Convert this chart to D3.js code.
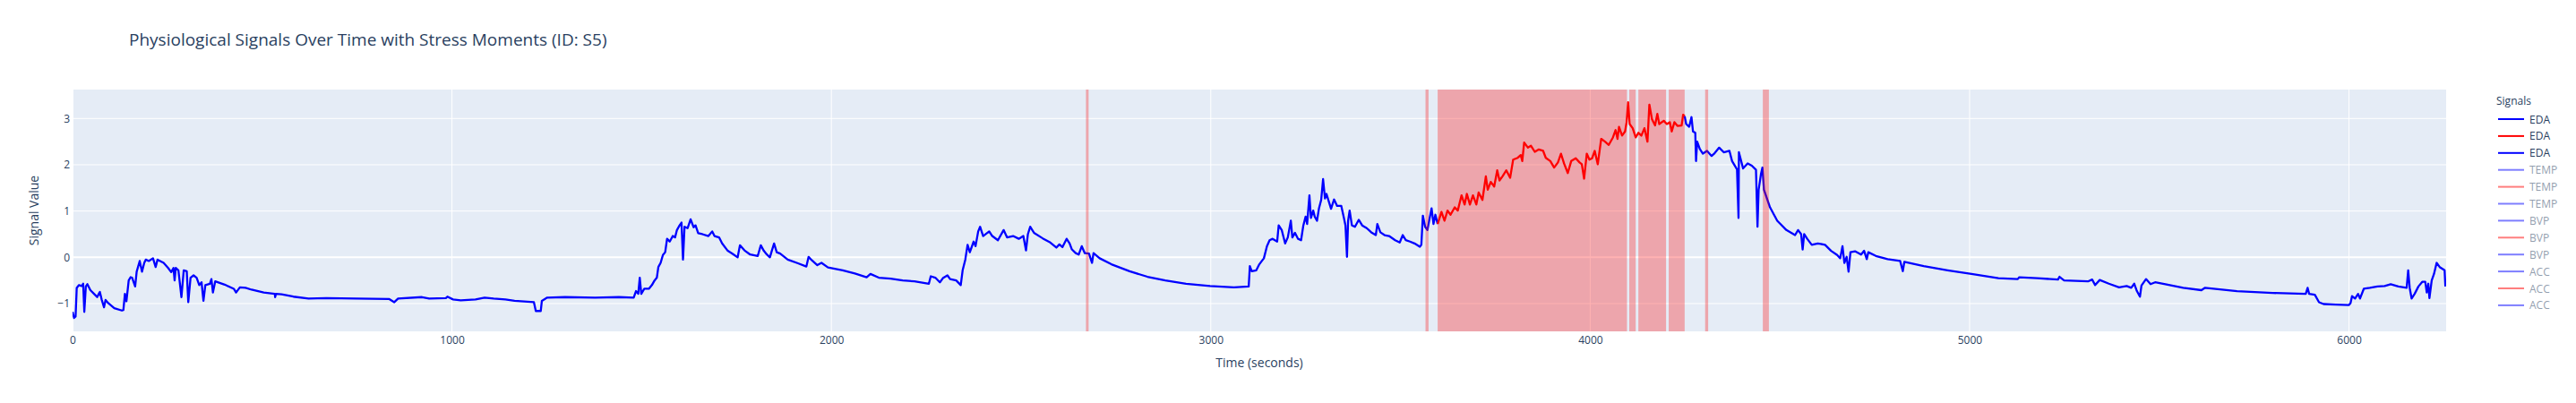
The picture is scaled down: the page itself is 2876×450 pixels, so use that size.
<!DOCTYPE html>
<html>
<head>
<meta charset="utf-8">
<script src="https://cdn.jsdelivr.net/npm/d3@7"></script>
<style>
  body { margin: 0; background: #fff; }
  text { font-family: "Open Sans", verdana, arial, sans-serif; fill: #2a3f5f; }
</style>
</head>
<body>
<svg id="chart" width="2876" height="450"></svg>
<script>
// EDA before the stress block (blue)
var preTime = [0,4,8,11,17,24,28,31,35,39,47,59,65,69,72,77,83,87,94,110,130,134,138,142,148,153,157,165,169,177,183,189,193,201,212,219,224,240,252,260,266,269,272,279,287,293,301,305,311,319,327,334,340,345,350,362,366,370,376,401,425,431,441,456,472,504,533,534,536,551,582,622,669,748,834,848,858,921,940,984,988,1003,1023,1062,
  1086,1110,1141,1165,1216,1221,1234,1237,1251,1298,1377,1440,1479,1485,1491,1495,1499,1507,1519,1527,1534,1540,1544,1550,1556,1562,1567,1574,1582,1588,1593,1600,1605,1609,1613,1621,1629,1637,1642,1649,1660,1676,1686,1692,1704,1712,1727,1739,1753,1759,1771,1786,1806,1814,1822,1830,1838,1843,1849,1856,1865,1885,1912,1934,1940,1948,1963,1974,1991,2030,2062,2093,2103,2125,
  2156,2188,2219,2257,2262,2274,2286,2294,2306,2313,2329,2341,2346,2353,2359,2365,2375,2380,2387,2392,2400,2416,2424,2439,2454,2463,2479,2494,2506,2513,2518,2524,2534,2557,2577,2593,2601,2609,2620,2628,2634,2644,2652,2660,2668,2679,2687,2691,2707,2738,2786,2833,2880,2935,2998,3061,3100,3103,3108,3120,3128,3140,3148,3155,3163,3175,3179,3187,
  3191,3196,3203,3211,3215,3222,3230,3238,3244,3250,3254,3260,3264,3270,3274,3280,3285,3291,3296,3301,3305,3311,3317,3325,3333,3344,3351,3355,3359,3362,3366,3372,3380,3390,3399,3411,3423,3435,3439,3447,3458,3470,3486,3498,3506,3514,3525,3537,3551,3555,3559,3565,3571,3577,3582,3587,3592,3598];
var preValue = [-1.18,-1.31,-1.28,-0.66,-0.60,-0.62,-0.57,-1.18,-0.63,-0.58,-0.71,-0.81,-0.86,-0.79,-0.75,-0.92,-1.08,-0.92,-0.99,-1.10,-1.15,-1.14,-0.79,-0.95,-0.50,-0.43,-0.44,-0.63,-0.31,-0.08,-0.31,-0.12,-0.05,-0.08,-0.02,-0.21,-0.05,-0.12,-0.23,-0.32,-0.23,-0.50,-0.23,-0.28,-0.86,-0.28,-0.30,-0.97,-0.44,-0.39,-0.44,-0.60,-0.54,-0.94,-0.60,-0.57,-0.47,-0.76,-0.52,-0.59,-0.68,-0.76,-0.65,-0.66,-0.70,-0.76,-0.79,-0.86,-0.79,-0.80,-0.85,-0.89,-0.88,-0.89,-0.90,-0.97,-0.89,-0.86,-0.89,-0.88,-0.85,-0.91,-0.93,-0.91,
  -0.87,-0.89,-0.91,-0.94,-0.97,-1.16,-1.16,-0.94,-0.87,-0.86,-0.87,-0.86,-0.87,-0.73,-0.79,-0.44,-0.79,-0.68,-0.68,-0.60,-0.50,-0.44,-0.21,-0.12,0.05,0.11,0.40,0.34,0.46,0.43,0.59,0.69,0.75,-0.05,0.66,0.63,0.82,0.65,0.69,0.52,0.50,0.46,0.56,0.46,0.43,0.30,0.14,0.08,0.00,0.26,0.15,0.06,0.03,0.26,0.14,0.06,0.00,0.14,0.30,0.11,0.08,-0.05,-0.13,-0.20,0.01,-0.06,-0.17,-0.12,-0.22,-0.28,-0.35,-0.43,-0.36,-0.44,
  -0.46,-0.50,-0.52,-0.57,-0.41,-0.44,-0.54,-0.45,-0.39,-0.47,-0.50,-0.60,-0.28,-0.05,0.27,0.11,0.34,0.24,0.56,0.66,0.46,0.56,0.46,0.37,0.59,0.43,0.46,0.40,0.46,0.15,0.50,0.66,0.53,0.41,0.32,0.21,0.28,0.22,0.40,0.30,0.17,0.09,0.06,0.24,0.09,0.08,-0.12,0.09,-0.02,-0.15,-0.30,-0.42,-0.50,-0.57,-0.62,-0.65,-0.63,-0.19,-0.30,-0.28,-0.15,-0.02,0.24,0.37,0.40,0.34,0.69,0.59,
  0.46,0.30,0.43,0.79,0.43,0.53,0.40,0.37,0.69,0.88,0.72,1.34,0.85,1.01,0.88,0.79,1.05,1.24,1.69,1.27,1.37,1.21,1.05,1.25,1.11,1.11,0.85,0.69,0.01,0.79,1.01,0.69,0.66,0.81,0.69,0.63,0.54,0.48,0.72,0.54,0.48,0.46,0.37,0.32,0.48,0.37,0.34,0.30,0.23,0.27,0.90,0.66,0.59,0.85,1.06,0.72,0.92,0.72];

// EDA during stress (red)
var stressTime = [3598,3608,3616,3624,3632,3643,3651,3661,3669,3675,3683,3691,3700,3706,3716,3725,3730,3738,3747,3755,3761,3769,3779,3789,3797,3809,3817,3821,3826,3836,3844,3854,3864,3876,3883,3895,3905,3915,3923,3931,3941,3950,3962,3972,3978,3984,3991,3998,4005,4012,4020,4029,4039,4049,4060,4067,4072,4076,4084,4092,4096,4100,4104,4112,4120,4127,4135,4143,4151,4156,4163,4171,4177,4182,4194,4202,4210,4215,4222,4230,4241,4245,4249];
var stressValue = [0.72,0.98,0.79,1.01,0.92,1.08,1.01,1.34,1.14,1.37,1.14,1.34,1.14,1.40,1.24,1.75,1.46,1.63,1.53,1.88,1.66,1.75,1.88,1.72,2.11,2.15,2.21,2.08,2.48,2.37,2.41,2.28,2.33,2.30,2.15,2.08,1.94,2.05,2.24,2.03,1.82,2.08,2.14,2.05,2.01,1.70,2.24,2.11,2.14,2.30,2.01,2.56,2.50,2.43,2.59,2.75,2.56,2.82,2.63,2.72,2.92,3.35,2.88,2.79,2.59,2.69,2.63,2.79,2.50,3.30,2.98,2.85,3.10,2.88,2.95,2.88,2.92,2.72,2.92,2.84,2.85,3.08,3.05];

// EDA after the stress block (blue)
var postTime = [4249,4253,4261,4267,4271,4277,4279,4282,4289,4297,4308,4320,4328,4340,4352,4367,4374,4387,4391,4392,4403,4415,4426,4437,4441,4444,4450,4454,4458,4474,4493,4517,4540,4548,4556,4560,4564,4572,4584,4600,4619,4635,4651,4659,4665,4670,4676,4681,4686,4698,4714,4722,4729,4733,4753,4784,4817,4824,4828,4879,4942,5005,5076,5127,5131,5178,5233,5237,5249,5312,
  5323,5331,5343,5367,5394,5414,5426,5434,5441,5449,5453,5465,5477,5489,5516,5563,5611,5620,5705,5799,5886,5891,5895,5910,5921,5933,5965,6000,6004,6008,6016,6024,6029,6039,6055,6075,6094,6110,6130,6152,6156,6160,6165,6173,6183,6193,6201,6205,6209,6212,6218,6224,6231,6239,6252,6254];
var postValue = [3.05,2.88,2.82,3.03,2.72,2.69,2.08,2.50,2.34,2.24,2.30,2.19,2.25,2.37,2.27,2.30,2.08,1.90,0.85,2.27,1.92,2.03,1.98,1.89,0.66,1.46,1.79,1.94,1.46,1.08,0.79,0.59,0.48,0.59,0.50,0.17,0.50,0.40,0.27,0.30,0.27,0.14,0.05,-0.02,0.24,-0.12,0.01,-0.31,0.11,0.13,0.06,0.14,-0.04,0.11,0.03,-0.04,-0.08,-0.30,-0.10,-0.19,-0.28,-0.36,-0.45,-0.47,-0.43,-0.45,-0.48,-0.42,-0.50,-0.52,
  -0.48,-0.60,-0.49,-0.57,-0.65,-0.62,-0.66,-0.57,-0.73,-0.85,-0.61,-0.47,-0.58,-0.54,-0.58,-0.66,-0.71,-0.66,-0.73,-0.77,-0.79,-0.66,-0.79,-0.81,-0.97,-1.01,-1.02,-1.03,-0.99,-0.84,-0.89,-0.79,-0.89,-0.68,-0.66,-0.63,-0.62,-0.58,-0.63,-0.66,-0.28,-0.66,-0.89,-0.79,-0.63,-0.53,-0.53,-0.76,-0.57,-0.88,-0.50,-0.36,-0.12,-0.21,-0.28,-0.63];

// stress moments (seconds)
var stressStart = [2671, 3566, 3598, 4103, 4127, 4207, 4303, 4455];
var stressEnd   = [2678, 3574, 4097, 4120, 4200, 4249, 4311, 4471];

var xTicks = [0, 1000, 2000, 3000, 4000, 5000, 6000];
var yTicks = [-1, 0, 1, 2, 3];

var legendNames = ["EDA","EDA","EDA","TEMP","TEMP","TEMP","BVP","BVP","BVP","ACC","ACC","ACC"];
var legendColors = ["blue","red","blue","blue","red","blue","blue","red","blue","blue","red","blue"];
var legendShown = [true,true,true,false,false,false,false,false,false,false,false,false];

var svg = d3.select("#chart");
// plot area edges (avoid the global "top")
var pLeft = 81, pRight = 2731, pTop = 100, pBottom = 370;

var x = d3.scaleLinear().domain([0, 6256]).range([pLeft, pRight]);
var y = d3.scaleLinear().domain([-1.6, 3.625]).range([pBottom, pTop]);

svg.append("rect").attr("x", pLeft).attr("y", pTop)
  .attr("width", pRight - pLeft).attr("height", pBottom - pTop)
  .attr("fill", "#E5ECF6");

// grid
svg.append("g").selectAll("line").data(xTicks).enter().append("line")
  .attr("x1", d => x(d)).attr("x2", d => x(d))
  .attr("y1", pTop).attr("y2", pBottom)
  .attr("stroke", "#fff").attr("stroke-width", d => d === 0 ? 2 : 1);
svg.append("g").selectAll("line").data(yTicks).enter().append("line")
  .attr("x1", pLeft).attr("x2", pRight)
  .attr("y1", d => y(d)).attr("y2", d => y(d))
  .attr("stroke", "#fff").attr("stroke-width", d => d === 0 ? 2 : 1);

// axes, text only
var xAxis = svg.append("g").attr("transform", "translate(0," + pBottom + ")")
  .call(d3.axisBottom(x).tickValues(xTicks).tickSize(0).tickPadding(5).tickFormat(d3.format("d")));
var yAxis = svg.append("g").attr("transform", "translate(" + pLeft + ",0)")
  .call(d3.axisLeft(y).tickValues(yTicks).tickSize(0).tickPadding(3).tickFormat(d3.format("d")));
[xAxis, yAxis].forEach(function(a) {
  a.select(".domain").remove();
  a.selectAll("text").attr("font-size", 12).attr("fill", "#2a3f5f")
    .style("font-family", '"Open Sans", verdana, arial, sans-serif');
});

svg.append("clipPath").attr("id", "plotclip").append("rect")
  .attr("x", pLeft).attr("y", pTop).attr("width", pRight - pLeft).attr("height", pBottom - pTop);

var line = d3.line().x(d => x(d[0])).y(d => y(d[1]));
var traces = [
  { t: preTime, v: preValue, color: "blue" },
  { t: stressTime, v: stressValue, color: "red" },
  { t: postTime, v: postValue, color: "blue" }
];
var lines = svg.append("g").attr("clip-path", "url(#plotclip)");
traces.forEach(function(tr) {
  lines.append("path")
    .datum(tr.t.map((t, i) => [t, tr.v[i]]))
    .attr("d", line)
    .attr("fill", "none")
    .attr("stroke", tr.color)
    .attr("stroke-width", 2.3)
    .attr("stroke-linejoin", "round");
});

// stress shading on top of the lines
svg.append("g").selectAll("rect").data(stressStart).enter().append("rect")
  .attr("x", (d) => x(d))
  .attr("width", (d, i) => x(stressEnd[i]) - x(d))
  .attr("y", pTop).attr("height", pBottom - pTop)
  .attr("fill", "red").attr("opacity", 0.3);

// titles
svg.append("text").attr("x", 144).attr("y", 51)
  .attr("font-size", 19).text("Physiological Signals Over Time with Stress Moments (ID: S5)");
svg.append("text").attr("x", (pLeft + pRight) / 2).attr("y", 410)
  .attr("text-anchor", "middle").attr("font-size", 14).text("Time (seconds)");
svg.append("text").attr("transform", "translate(43," + ((pTop + pBottom) / 2) + ") rotate(-90)")
  .attr("text-anchor", "middle").attr("font-size", 14).text("Signal Value");

// legend
var lg = svg.append("g").attr("transform", "translate(2784,0)");
lg.append("text").attr("x", 3).attr("y", 117).attr("font-size", 12).text("Signals");
var items = lg.selectAll(".item").data(legendNames).enter().append("g")
  .attr("class", "item")
  .attr("transform", (d, i) => "translate(0," + (133 + i * 18.9) + ")")
  .attr("opacity", (d, i) => legendShown[i] ? 1 : 0.5);
items.append("line").attr("x1", 5).attr("x2", 34).attr("y1", 0).attr("y2", 0)
  .attr("stroke", (d, i) => legendColors[i]).attr("stroke-width", 2);
items.append("text").attr("x", 40).attr("y", 4.5).attr("font-size", 12).text(d => d);
</script>
</body>
</html>
